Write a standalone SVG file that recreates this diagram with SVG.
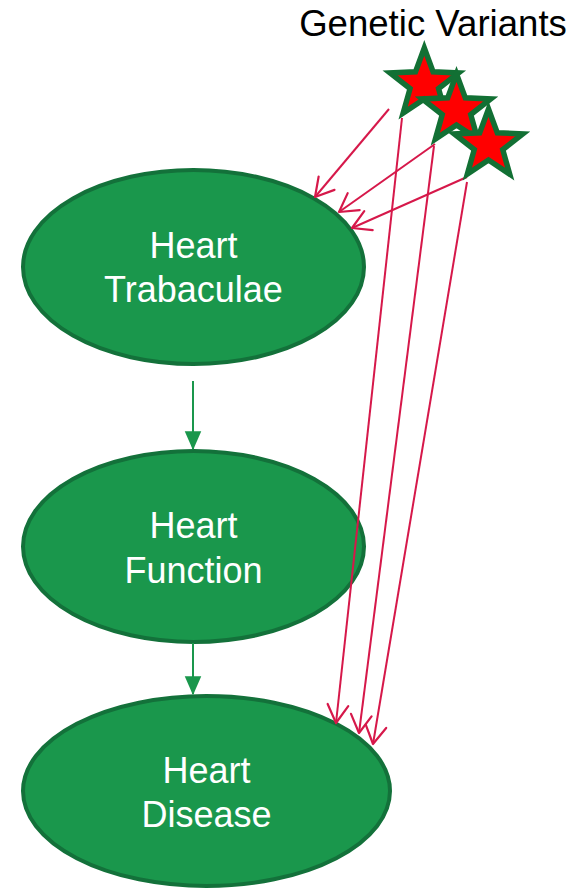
<svg xmlns="http://www.w3.org/2000/svg" width="576" height="888" viewBox="0 0 576 888">
  <style>
    .node ellipse { fill: #1a974c; stroke: #13713a; stroke-width: 4; }
    .node text { fill: #ffffff; font-family: "Liberation Sans", Arial, sans-serif; font-size: 36px; text-anchor: middle; }
    .title { fill: #000000; font-family: "Liberation Sans", Arial, sans-serif; font-size: 36.6px; text-anchor: middle; }
    .star { fill: #ff0000; stroke: #127034; stroke-width: 5.5; stroke-linejoin: miter; }
    .flow { stroke: #1a974c; stroke-width: 2; fill: none; }
    .link { stroke: #d6184a; stroke-width: 2; fill: none; }
  </style>
  <defs>
    <marker id="headGreen" markerUnits="userSpaceOnUse" markerWidth="20" markerHeight="20" refX="0" refY="0" viewBox="-16 -8 17 16" orient="auto" overflow="visible">
      <path d="M-15,-7 L1,0 L-15,7 Z" fill="#1a974c"/>
    </marker>
    <marker id="headRed" markerUnits="userSpaceOnUse" markerWidth="24" markerHeight="24" refX="0" refY="0" viewBox="-18 -11 19 22" orient="auto" overflow="visible">
      <path d="M-16.5,-9.5 L0,0 L-16.5,9.5" fill="none" stroke="#d6184a" stroke-width="2" stroke-linejoin="round" stroke-linecap="round"/>
    </marker>
    <!-- five-point star, outer radius 36, inner radius 15, centred on origin -->
    <polygon id="starShape" points="0,-36 8.82,-12.14 34.24,-11.12 14.27,4.64 21.16,29.12 0,15 -21.16,29.12 -14.27,4.64 -34.24,-11.12 -8.82,-12.14"/>
  </defs>

  <text class="title" x="433" y="36">Genetic Variants</text>

  <g id="node-trabaculae" class="node">
    <ellipse cx="193.5" cy="267" rx="170.5" ry="97"/>
    <text x="193.5" y="258">Heart</text>
    <text x="193.5" y="302">Trabaculae</text>
  </g>

  <g id="node-function" class="node">
    <ellipse cx="193.5" cy="546.5" rx="170.5" ry="95.5"/>
    <text x="193.5" y="538">Heart</text>
    <text x="193.5" y="583">Function</text>
  </g>

  <g id="node-disease" class="node">
    <ellipse cx="206.5" cy="791" rx="183.5" ry="95"/>
    <text x="206.5" y="783">Heart</text>
    <text x="206.5" y="827">Disease</text>
  </g>

  <g id="connectors">
    <line class="flow" x1="193" y1="381" x2="193" y2="449" marker-end="url(#headGreen)"/>
    <line class="flow" x1="193" y1="643" x2="193" y2="694" marker-end="url(#headGreen)"/>

    <line class="link" x1="389" y1="109" x2="315" y2="197" marker-end="url(#headRed)"/>
    <line class="link" x1="435" y1="144" x2="339" y2="212" marker-end="url(#headRed)"/>
    <line class="link" x1="467" y1="177" x2="352" y2="228" marker-end="url(#headRed)"/>
    <line class="link" x1="402" y1="118" x2="336" y2="723" marker-end="url(#headRed)"/>
    <line class="link" x1="434" y1="146" x2="359" y2="733" marker-end="url(#headRed)"/>
    <line class="link" x1="467" y1="182" x2="373" y2="744" marker-end="url(#headRed)"/>
  </g>

  <g id="variants">
    <use href="#starShape" class="star" x="424.3" y="84"/>
    <use href="#starShape" class="star" x="456.5" y="110"/>
    <use href="#starShape" class="star" x="488.5" y="145"/>
  </g>
</svg>
